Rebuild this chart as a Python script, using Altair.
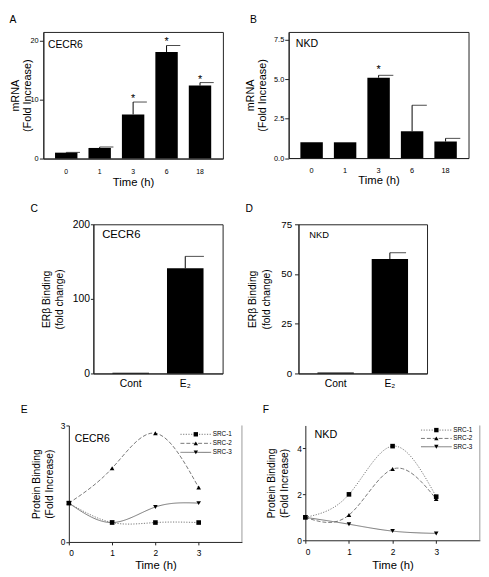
import altair as alt
import pandas as pd

FONT = "Liberation Sans"

# ---------------- data ----------------
times = ["0", "1", "3", "6", "18"]
cecr6_mrna = [1.0, 1.8, 7.5, 18.1, 12.4]
cecr6_mrna_err = [0.05, 0.15, 2.1, 1.1, 0.5]
cecr6_mrna_sig = ["", "", "*", "*", "*"]
nkd_mrna = [1.0, 1.0, 5.1, 1.7, 1.05]
nkd_mrna_err = [0.0, 0.0, 0.15, 1.65, 0.2]
nkd_mrna_sig = ["", "", "*", "", ""]

treatments = ["Cont", "E₂"]
cecr6_erb = [1.0, 141.0]
cecr6_erb_err = [0.0, 16.0]
nkd_erb = [0.5, 57.5]
nkd_erb_err = [0.0, 3.2]

hours = [0, 1, 2, 3]
coactivators = ["SRC-1", "SRC-2", "SRC-3"]
cecr6_src1 = [1.0, 0.5, 0.5, 0.5]
cecr6_src2 = [1.0, 1.9, 2.8, 1.4]
cecr6_src3 = [1.0, 0.5, 0.9, 1.0]
nkd_src1 = [1.0, 2.0, 4.1, 1.9]
nkd_src2 = [1.0, 1.1, 3.1, 1.8]
nkd_src3 = [1.0, 0.7, 0.4, 0.3]

# ---------------- styles ----------------
DASHES = [[1.2, 1.5], [4, 2], [1, 0]]
MARKERS = ["square", "triangle-up", "triangle-down"]
LEGEND_LINE = "M-7,0H7"   # legend line sample (scaled by sqrt(symbolSize)/2)


def text_layer(text, x, y, fs, baseline):
    return alt.Chart(pd.DataFrame({"g": [text]})).mark_text(
        align="left", baseline=baseline, fontSize=fs, font=FONT, color="black"
    ).encode(x=alt.value(x), y=alt.value(y), text="g:N")


def bar_panel(cats, mean, err, sig, c):
    df = pd.DataFrame({"cat": cats, "mean": mean, "err": err, "sig": sig})
    df["top"] = df["mean"] + df["err"]
    xkw = dict(labelAngle=0, labelFontSize=c["xlab"], ticks=False, tickSize=0,
               labelPadding=c["xpad"])
    if c.get("xtitle"):
        xkw.update(title=c["xtitle"], titleFontSize=11.5, titleY=c["xty"],
                   titleBaseline="middle")
    else:
        xkw.update(title=None)
    xs = alt.Scale(paddingInner=0.33, paddingOuter=0.35)
    x = alt.X("cat:N", sort=cats, scale=xs, axis=alt.Axis(**xkw))
    ys = alt.Scale(domain=[0, c["ymax"]], nice=False)
    yax = alt.Axis(values=c["yticks"], format=c["yfmt"], title=c["ytitle"],
                   titleFontSize=c["ytfs"], titleX=c["ytx"], titleLineHeight=c["ytlh"],
                   titleBaseline="bottom", labelOverlap=False,
                   labelFontSize=c["ylab"], tickSize=c["ytick"], labelPadding=c["ypad"])
    base = alt.Chart(df)
    bars = base.mark_bar(color="black").encode(x=x, y=alt.Y("mean:Q", scale=ys, axis=yax))
    ebase = base.transform_filter("datum.err > 0")
    errs = ebase.mark_rule(color="black", strokeWidth=1).encode(
        x=x, y=alt.Y("mean:Q", scale=ys, axis=yax), y2="top:Q")
    caps = ebase.mark_tick(color="black", thickness=1, size=c["cap"],
                           xOffset=c["cap"] / 2).encode(
        x=x, y=alt.Y("top:Q", scale=ys, axis=yax))
    stars = base.transform_filter("datum.sig != ''").mark_text(
        fontSize=11, font=FONT, baseline="alphabetic", dy=c.get("sdy", 0), color="black"
    ).encode(x=x, y=alt.Y("top:Q", scale=ys, axis=yax), text="sig:N")
    gene = text_layer(c["gene"], c["gx"], c["gy"], c["gfs"], "middle")
    letter = text_layer(c["letter"], c["lx"], c["ly"], 10.5, "alphabetic")
    return alt.layer(bars, errs, caps, stars, gene, letter).properties(
        width=c["w"], height=c["h"],
        view=alt.ViewBackground(stroke="#222", strokeWidth=1))


def line_panel(s1, s2, s3, c):
    rows = []
    for s, vals in zip(coactivators, [s1, s2, s3]):
        for t, v in zip(hours, vals):
            rows.append({"t": t, "v": v, "series": s, "lg": s})
    df = pd.DataFrame(rows)
    xs = alt.Scale(domain=[0, c["xmax"]], nice=False)
    ys = alt.Scale(domain=[0, c["ymax"]], nice=False)
    x = alt.X("t:Q", scale=xs, axis=alt.Axis(
        values=hours, title="Time (h)", titleFontSize=11.5, titleY=c["xty"],
        titleBaseline="middle", labelFontSize=c["xlab"], tickSize=3, labelPadding=c["xpad"],
        format="d", labelOverlap=False))
    y = alt.Y("v:Q", scale=ys, axis=alt.Axis(
        values=c["yticks"], format="d", title=["Protein Binding", "(Fold Increase)"],
        titleFontSize=c["ytfs"], titleX=c["ytx"], titleLineHeight=c["ytlh"],
        titleBaseline="bottom", labelFontSize=c["ylab"], tickSize=3, labelPadding=1,
        labelOverlap=False))
    leg_common = dict(orient="none", legendX=c["legx"], legendY=c["legy"], title=None,
                      padding=0, symbolSize=20, labelFontSize=6.5, labelFont=FONT,
                      labelColor="black", labelOffset=14, rowPadding=c["rp"], symbolOffset=0)
    lines = alt.Chart(df).mark_line(interpolate="natural", color="#555", strokeWidth=0.8).encode(
        x=x, y=y,
        strokeDash=alt.StrokeDash("series:N", scale=alt.Scale(range=DASHES),
                                  legend=alt.Legend(symbolType=LEGEND_LINE, symbolStrokeWidth=0.8,
                                                    symbolStrokeColor="#555", **leg_common)))
    points = alt.Chart(df).mark_point(filled=True, color="black", size=22, opacity=1).encode(
        x=x, y=y,
        shape=alt.Shape("lg:N", scale=alt.Scale(domain=coactivators, range=MARKERS),
                        legend=alt.Legend(labelOpacity=0, symbolFillColor="black",
                                          symbolStrokeWidth=0, zindex=2, **leg_common)))
    border = alt.Chart(pd.DataFrame({"e": [0]})).mark_rule(color="#999", strokeWidth=1).encode(
        x=alt.datum(c["xmax"]), y=alt.datum(0), y2=alt.datum(c["ymax"]))
    gene = text_layer(c["gene"], c["gx"], c["gy"], c["gfs"], "middle")
    letter = text_layer(c["letter"], c["lx"], c["ly"], 10.5, "alphabetic")
    return alt.layer(border, lines, points, gene, letter).properties(
        width=c["w"], height=c["h"])


def spacer(w, h):
    return alt.Chart(pd.DataFrame({"s": [0]})).transform_filter("false").mark_point().encode(
        x=alt.value(0), y=alt.value(0)).properties(width=w, height=h)


mrna_title = ["mRNA", "(Fold Increase)"]
erb_title = ["ERβ Binding", "(fold change)"]

A = bar_panel(times, cecr6_mrna, cecr6_mrna_err, cecr6_mrna_sig, dict(
    ymax=21.5, yticks=[0, 10, 20], yfmt="d", w=183, h=129, letter="A", lx=-34.5, ly=-9.5,
    gene="CECR6", gx=4.7, gy=13.3, gfs=10.5, ytitle=mrna_title, ytfs=11, ytx=-23.2, ytlh=12,
    ylab=7.5, ytick=4, ypad=1.3, xlab=7, xpad=9.5, xtitle="Time (h)", xty=24, cap=14, sdy=0))

B = bar_panel(times, nkd_mrna, nkd_mrna_err, nkd_mrna_sig, dict(
    ymax=8, yticks=[0, 2.5, 5, 7.5], yfmt=".1f", w=183.3, h=128.5, letter="B", lx=-39.4,
    ly=-9.5, gene="NKD", gx=7.3, gy=12.7, gfs=10.8, ytitle=mrna_title, ytfs=11, ytx=-33.9,
    ytlh=12.5, ylab=7.5, ytick=4, ypad=1, xlab=7.5, xpad=8.7, xtitle="Time (h)", xty=22.7,
    cap=15, sdy=-2))

C = bar_panel(treatments, cecr6_erb, cecr6_erb_err, ["", ""], dict(
    ymax=200, yticks=[0, 100, 200], yfmt="d", w=131.7, h=152, letter="C", lx=-64, ly=-12.7,
    gene="CECR6", gx=9, gy=11.3, gfs=11.5, ytitle=erb_title, ytfs=10.5, ytx=-42.3, ytlh=12.6,
    ylab=10.5, ytick=3, ypad=1, xlab=10.5, xpad=5.8, cap=19))

D = bar_panel(treatments, nkd_erb, nkd_erb_err, ["", ""], dict(
    ymax=75, yticks=[0, 25, 50, 75], yfmt="d", w=131, h=152, letter="D", lx=-54, ly=-12.7,
    gene="NKD", gx=11, gy=10.7, gfs=9.5, ytitle=erb_title, ytfs=10.5, ytx=-41.3, ytlh=14,
    ylab=10, ytick=4, ypad=3, xlab=10.5, xpad=5.8, cap=16.5))

E = line_panel(cecr6_src1, cecr6_src2, cecr6_src3, dict(
    xmax=4, ymax=3, yticks=[0, 1, 2, 3], w=176.4, h=118.7, letter="E", lx=-49, ly=-12.7,
    gene="CECR6", gx=6, gy=14, gfs=10.5, ytfs=10.5, ytx=-28, ytlh=13.3, ylab=8.5,
    xlab=8.5, xpad=4.3, xty=24, legx=126.15, legy=5.75, rp=2.2))

F = line_panel(nkd_src1, nkd_src2, nkd_src3, dict(
    xmax=4, ymax=5, yticks=[0, 1, 2, 3, 4, 5], w=177.8, h=117, letter="F", lx=-43.3,
    ly=-13, gene="NKD", gx=9.3, gy=9.7, gfs=11, ytfs=10.5, ytx=-29.7, ytlh=13.4, ylab=8.5,
    xlab=8.5, xpad=5, xty=25.5, legx=130.25, legy=1.45, rp=1.5))

INDEPENDENT = dict(shape="independent", strokeDash="independent")


def row(left_gap, left, mid_gap, right):
    return alt.hconcat(spacer(left_gap, 1), left, spacer(mid_gap, 1), right,
                       spacing=0, bounds="flush").resolve_scale(**INDEPENDENT).resolve_legend(
        **INDEPENDENT)


chart = alt.vconcat(
    spacer(1, 18),
    row(35, A, 66.7, B),
    spacer(1, 196),
    row(86, C, 76.6, D),
    spacer(1, 205),
    row(61, E, 63.6, F),
    spacing=0, bounds="flush",
).resolve_scale(**INDEPENDENT).resolve_legend(**INDEPENDENT).properties(
    padding=0, background="white"
).configure_view(
    stroke="transparent"
).configure_axis(
    grid=False, domainColor="#222", tickColor="#222", labelColor="black", titleColor="black",
    labelFont=FONT, titleFont=FONT, titleFontWeight="normal"
)

chart.save("out.html", embed_options={"renderer": "svg", "actions": False})
